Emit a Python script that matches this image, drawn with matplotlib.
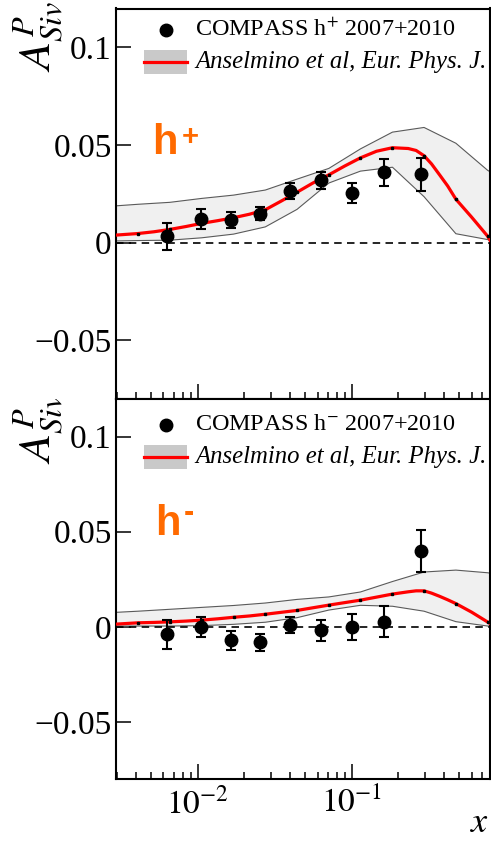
import matplotlib
matplotlib.use("Agg")
import matplotlib.pyplot as plt
import matplotlib.ticker as mticker
from matplotlib.patches import Rectangle
from matplotlib.lines import Line2D
from matplotlib.transforms import Bbox, TransformedBbox

plt.rcParams['font.family'] = ['Liberation Serif', 'DejaVu Serif']
plt.rcParams['mathtext.fontset'] = 'stix'

# ---------------- data ----------------
x_bins = [0.0063, 0.0105, 0.0164, 0.0255, 0.040, 0.063, 0.101, 0.162, 0.284]

asym_pos = [0.0032, 0.0120, 0.0115, 0.0147, 0.0264, 0.0319, 0.0252, 0.0360, 0.0349]
err_pos = [0.0069, 0.0050, 0.0043, 0.0034, 0.0039, 0.0045, 0.0051, 0.0068, 0.0086]

asym_neg = [-0.0040, 0.0000, -0.0070, -0.0082, 0.0009, -0.0018, 0.0000, 0.0026, 0.0400]
err_neg = [0.0075, 0.0054, 0.0050, 0.0043, 0.0044, 0.0055, 0.0067, 0.0082, 0.0111]

# model curve on a fine log-x grid
model_x = [0.00295, 0.0041, 0.0052, 0.0066, 0.0084, 0.0106, 0.0135, 0.0171, 0.0217,
           0.0275, 0.0348, 0.0442, 0.0560, 0.0711, 0.0900, 0.114, 0.145, 0.184,
           0.233, 0.262, 0.295, 0.330, 0.373, 0.420, 0.475, 0.601, 0.764, 0.791]
model_pos = [0.0038, 0.0046, 0.0055, 0.0067, 0.0082, 0.0098, 0.0112, 0.0127, 0.0145,
             0.0168, 0.0212, 0.0258, 0.0305, 0.0347, 0.0392, 0.0434, 0.0468, 0.0486,
             0.0482, 0.0472, 0.0445, 0.0403, 0.0346, 0.0290, 0.0222, 0.0130, 0.0032,
             0.0012]
model_neg = [0.0014, 0.0021, 0.0023, 0.0026, 0.0030, 0.0035, 0.0042, 0.0050, 0.0057,
             0.0066, 0.0076, 0.0086, 0.0100, 0.0114, 0.0127, 0.0140, 0.0156, 0.0172,
             0.0184, 0.0189, 0.0189, 0.0177, 0.0160, 0.0142, 0.0122, 0.0077, 0.0025,
             0.0018]

# model uncertainty band, given at the curve's node points
band_x = [0.00295, 0.0041, 0.0066, 0.0106, 0.0171, 0.0275, 0.0442, 0.0711, 0.114,
          0.184, 0.295, 0.475, 0.764, 0.791]
band_pos_hi = [0.0188, 0.0196, 0.0206, 0.0226, 0.0243, 0.0269, 0.0325, 0.0380, 0.0480,
               0.0566, 0.0590, 0.0509, 0.0370, 0.0363]
band_pos_lo = [0.0008, 0.0010, 0.0012, 0.0024, 0.0043, 0.0080, 0.0170, 0.0305, 0.0366,
               0.0386, 0.0235, 0.0045, 0.0015, 0.0010]
band_neg_hi = [0.0076, 0.0082, 0.0092, 0.0102, 0.0112, 0.0125, 0.0144, 0.0157, 0.0183,
               0.0238, 0.0288, 0.0298, 0.0284, 0.0282]
band_neg_lo = [0.0004, 0.0004, 0.0004, 0.0006, 0.0013, 0.0024, 0.0048, 0.0088, 0.0113,
               0.0108, 0.0082, 0.0027, 0.0004, 0.0004]

y_ticks = [-0.05, 0.0, 0.05, 0.1]
y_tick_labels = ['\u22120.05', '0', '0.05', '0.1']
x_major = [0.01, 0.1]
x_major_labels = [r'$10^{-2}$', r'$10^{-1}$']

data_label_pos = r'COMPASS h$^{+}$ 2007+2010'
data_label_neg = r'COMPASS h$^{-}$ 2007+2010'
model_label = 'Anselmino et al, Eur. Phys. J.'

# ---------------- figure ----------------
W, H = 491, 842
fig = plt.figure(figsize=(W / 100, H / 100), dpi=100)


def fx(px):
    return px / W


def fy(py):
    return 1 - py / H


ax_top = fig.add_axes([fx(116), fy(398.5), fx(490) - fx(116), fy(8.5) - fy(398.5)])
ax_bot = fig.add_axes([fx(116), fy(779), fx(490) - fx(116), fy(398.5) - fy(779)])

ORANGE = '#ff6a00'
BAND_FACE = '#f0f0f0'
BAND_EDGE = '#5a5a5a'

node_idx = [i for i, v in enumerate(model_x) if v in band_x[1:-1]]

panels = [
    (ax_top, asym_pos, err_pos, model_pos, band_pos_hi, band_pos_lo),
    (ax_bot, asym_neg, err_neg, model_neg, band_neg_hi, band_neg_lo),
]

for ax, vals, errs, model, hi, lo in panels:
    ax.set_xscale('log')
    ax.set_xlim(0.00295, 0.791)
    ax.set_ylim(-0.08, 0.12)

    ax.fill_between(band_x, lo, hi, facecolor=BAND_FACE, edgecolor='none', zorder=1)
    ax.plot(band_x, hi, color=BAND_EDGE, lw=0.8, zorder=2)
    ax.plot(band_x, lo, color=BAND_EDGE, lw=0.8, zorder=2)

    ax.axhline(0, color='black', lw=1.2, dashes=(4.5, 3.2), zorder=3)

    ax.plot(model_x, model, color='#ff0000', lw=2.3, zorder=4,
            solid_joinstyle='round', marker='s', markersize=1.6,
            markerfacecolor='black', markeredgecolor='black', markevery=node_idx)

    ax.errorbar(x_bins, vals, yerr=errs, fmt='o', color='black', ms=9,
                elinewidth=1.5, capsize=3.5, capthick=1.5, zorder=5)

    for sp in ax.spines.values():
        sp.set_linewidth(1.5)

    ax.set_yticks(y_ticks)
    ax.set_yticklabels(y_tick_labels)
    ax.yaxis.set_minor_locator(mticker.NullLocator())
    ax.xaxis.set_major_locator(mticker.FixedLocator(x_major))
    ax.xaxis.set_minor_locator(mticker.LogLocator(base=10, subs=range(2, 10), numticks=20))
    ax.tick_params(axis='both', which='major', direction='in', length=11, width=1.1,
                   labelsize=24, pad=3)
    ax.tick_params(axis='x', which='minor', direction='in', length=5, width=1.1)
    ax.tick_params(axis='x', which='major', pad=6)
    ax.xaxis.set_minor_formatter(mticker.NullFormatter())

ax_top.set_xticklabels(['', ''])
ax_bot.set_xticklabels(x_major_labels)


# ---------------- legends (placed in figure pixels) ----------------
def legend_block(y_row1, y_box_top, y_box_bot, text1):
    y_row2 = 0.5 * (y_box_top + y_box_bot)
    fig.add_artist(Line2D([fx(165.7)], [fy(y_row1)], marker='o', ms=9,
                          color='black', linestyle='none'))
    fig.text(fx(195), fy(y_row1), text1, fontsize=17.4, va='center', ha='left')
    fig.add_artist(Rectangle((fx(144), fy(y_box_bot)), fx(187) - fx(144),
                             fy(y_box_top) - fy(y_box_bot), facecolor='#c9c9c9',
                             edgecolor='none', transform=fig.transFigure))
    fig.add_artist(Line2D([fx(144), fx(187)], [fy(y_row2), fy(y_row2)],
                          color='#ff0000', lw=2.3))
    fig.text(fx(195), fy(y_row2), model_label, fontsize=17.8, style='italic',
             va='center', ha='left')


legend_block(30, 50, 74, data_label_pos)
legend_block(425, 445, 469, data_label_neg)

# ---------------- hadron charge tags ----------------
tag_font = dict(family='Liberation Sans', weight='bold', color=ORANGE)
fig.text(fx(152), fy(153.5), 'h', fontsize=30, ha='left', va='baseline', **tag_font)
fig.text(fx(190.5), fy(137), '+', fontsize=21, ha='center', va='center', **tag_font)
fig.text(fx(155.5), fy(535), 'h', fontsize=30, ha='left', va='baseline', **tag_font)
fig.text(fx(189), fy(513), '-', fontsize=22, ha='center', va='center', **tag_font)

# ---------------- axis titles ----------------
ylab = r'$A^{P}_{Siv}$'
fig.text(fx(38), fy(1), ylab, fontsize=33, rotation=90, ha='center', va='top')
t2 = fig.text(fx(38), fy(393), ylab, fontsize=33, rotation=90, ha='center', va='top')
t2.set_clip_box(TransformedBbox(Bbox([[0, 0], [1, fy(398.5)]]), fig.transFigure))
t2.set_clip_on(True)

fig.text(fx(489), fy(832), r'$x$', fontsize=26, ha='right', va='baseline')

fig.savefig('out.png', dpi=100)
